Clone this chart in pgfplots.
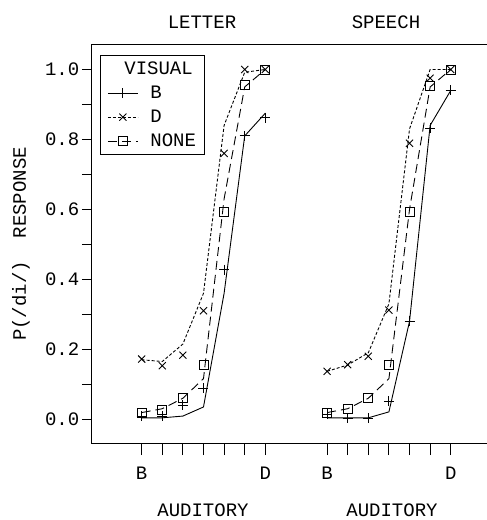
\documentclass[border=0pt]{standalone}
\usepackage{fontspec}
\setmainfont{Liberation Mono}
\usepackage{pgfplots}
\usepackage{pgfplotstable}
\pgfplotsset{compat=1.18}

% x: audit. level; bo/bp = visual B observed/predicted, do/dp = visual D, no/np = no visual
\pgfplotstableread{
x  bo    bp    do    dp    no    np
1  0.009 0.004 0.172 0.170 0.019 0.019
2  0.009 0.004 0.153 0.165 0.026 0.030
3  0.040 0.009 0.183 0.215 0.061 0.060
4  0.088 0.035 0.310 0.360 0.156 0.116
5  0.428 0.360 0.760 0.840 0.593 0.630
6  0.810 0.810 1.000 0.992 0.956 0.950
7  0.862 0.875 1.000 1.000 1.000 1.000
}\letter

\pgfplotstableread{
x  bo    bp    do    dp    no    np
10 0.015 0.004 0.137 0.137 0.019 0.019
11 0.003 0.004 0.156 0.155 0.028 0.030
12 0.003 0.004 0.180 0.190 0.061 0.060
13 0.052 0.021 0.312 0.330 0.156 0.116
14 0.280 0.280 0.789 0.830 0.593 0.600
15 0.832 0.840 0.975 1.000 0.954 0.950
16 0.941 0.940 1.000 1.000 1.000 1.000
}\speech

\newcommand{\pf}{\fontsize{19bp}{22bp}\selectfont}

\begin{document}
\begin{tikzpicture}
\useasboundingbox (0,0) rectangle (487bp,520bp);
\begin{axis}[
  at={(91bp,77bp)}, anchor=south west,
  scale only axis, width=396bp, height=398bp,
  xmin=-1.46, xmax=17.76, ymin=-0.068, ymax=1.07,
  axis x line*=bottom, axis y line*=left,
  axis line style={line width=1bp, black},
  tick align=outside,
  xtick={1,2,3,4,5,6,7,10,11,12,13,14,15,16},
  xticklabels={B,,,,,,D,B,,,,,,D},
  ytick={0,0.2,0.4,0.6,0.8,1.0},
  minor ytick={0.1,0.3,0.5,0.7,0.9},
  xtick style={/pgfplots/major tick length=12bp, line width=1bp, black},
  ytick style={/pgfplots/major tick length=9bp, /pgfplots/minor tick length=9bp, line width=1bp, black},
  minor tick style={line width=1bp, black},
  ticklabel style={font=\pf},
  xticklabel style={yshift=-16bp},
  yticklabel style={xshift=-4bp, /pgf/number format/.cd, fixed, fixed zerofill, precision=1, assume math mode=true},
  clip=false,
  legend style={at={(axis description cs:0.0227,0.975)}, anchor=north west,
    draw=black, line width=1bp, font=\pf, inner xsep=7bp, inner ysep=4.5bp,
    row sep=6bp, /tikz/every odd column/.append style={column sep=10bp}},
  legend cell align=left,
  legend image code/.code={\draw[mark repeat=2,mark phase=2] plot coordinates {(0bp,0bp) (15bp,0bp) (30bp,0bp)};},
  every axis plot/.append style={line width=0.9bp, black},
]
\draw[line width=1bp] (rel axis cs:0,1) -- (rel axis cs:1,1);

% predicted curves
\addplot[solid, no marks, forget plot] table[x=x,y=bp]{\letter};
\addplot[dash pattern=on 3bp off 2bp, no marks, forget plot] table[x=x,y=dp]{\letter};
\addplot[dash pattern=on 9bp off 5bp, no marks, forget plot] table[x=x,y=np]{\letter};
\addplot[solid, no marks, forget plot] table[x=x,y=bp]{\speech};
\addplot[dash pattern=on 3bp off 2bp, no marks, forget plot] table[x=x,y=dp]{\speech};
\addplot[dash pattern=on 9bp off 5bp, no marks, forget plot] table[x=x,y=np]{\speech};

% observed points
\addplot[only marks, mark=+, mark size=5bp, forget plot] table[x=x,y=bo]{\letter};
\addplot[only marks, mark=x, mark size=5bp, forget plot] table[x=x,y=do]{\letter};
\addplot[only marks, mark=square, mark size=4.5bp, forget plot] table[x=x,y=no]{\letter};
\addplot[only marks, mark=+, mark size=5bp, forget plot] table[x=x,y=bo]{\speech};
\addplot[only marks, mark=x, mark size=5bp, forget plot] table[x=x,y=do]{\speech};
\addplot[only marks, mark=square, mark size=4.5bp, forget plot] table[x=x,y=no]{\speech};

\addlegendimage{empty legend}
\addlegendentry{\hspace*{-26bp}VISUAL}
\addlegendimage{solid, line width=0.9bp, mark=+, mark size=5bp}
\addlegendentry{B}
\addlegendimage{dash pattern=on 3bp off 2bp, line width=0.9bp, mark=x, mark size=5bp, mark options={solid}}
\addlegendentry{D}
\addlegendimage{dash pattern=on 9bp off 5bp, line width=0.9bp, mark=square, mark size=4.5bp, mark options={solid}}
\addlegendentry{NONE}
\end{axis}
\node[font=\pf] at (202bp,498bp) {LETTER};
\node[font=\pf] at (386bp,498bp) {SPEECH};
\node[font=\pf, inner sep=0pt] at (203bp,10bp) {AUDITORY};
\node[font=\pf, inner sep=0pt] at (392bp,10bp) {AUDITORY};
\node[font=\pf, rotate=90] at (21bp,276bp) {P(/di/)\ \ RESPONSE};
\end{tikzpicture}
\end{document}
